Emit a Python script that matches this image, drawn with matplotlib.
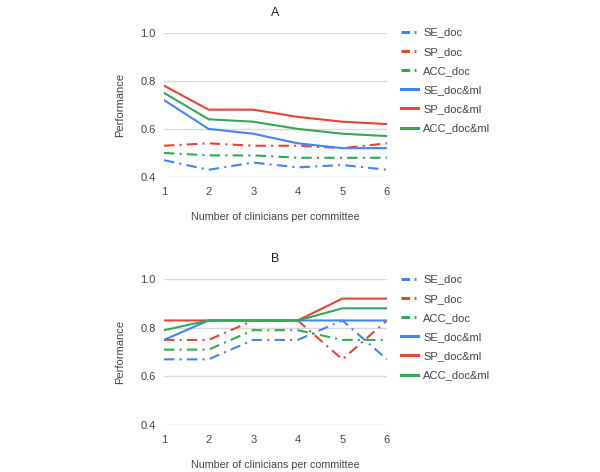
import matplotlib
matplotlib.use("Agg")
import matplotlib.pyplot as plt
from matplotlib.lines import Line2D

plt.rcParams['font.family'] = ['Liberation Sans', 'DejaVu Sans']

x = [1, 2, 3, 4, 5, 6]
labels = ["SE_doc", "SP_doc", "ACC_doc", "SE_doc&ml", "SP_doc&ml", "ACC_doc&ml"]

a_se_doc = [0.47, 0.43, 0.46, 0.44, 0.45, 0.43]
a_sp_doc = [0.53, 0.54, 0.53, 0.53, 0.52, 0.54]
a_acc_doc = [0.50, 0.49, 0.49, 0.48, 0.48, 0.48]
a_se_ml = [0.72, 0.60, 0.58, 0.54, 0.52, 0.52]
a_sp_ml = [0.78, 0.68, 0.68, 0.65, 0.63, 0.62]
a_acc_ml = [0.75, 0.64, 0.63, 0.60, 0.58, 0.57]

b_se_doc = [0.67, 0.67, 0.75, 0.75, 0.83, 0.67]
b_sp_doc = [0.75, 0.75, 0.83, 0.83, 0.67, 0.83]
b_acc_doc = [0.71, 0.71, 0.79, 0.79, 0.75, 0.75]
b_se_ml = [0.75, 0.83, 0.83, 0.83, 0.83, 0.83]
b_sp_ml = [0.83, 0.83, 0.83, 0.83, 0.92, 0.92]
b_acc_ml = [0.79, 0.83, 0.83, 0.83, 0.88, 0.88]

yticks = [0.4, 0.6, 0.8, 1.0]
ytick_labels = ["0.4", "0.6", "0.8", "1.0"]

BLUE, RED, GREEN = "#4285F4", "#EA4335", "#34A853"
colors = [BLUE, RED, GREEN, BLUE, RED, GREEN]
dashdot = (0, (5, 2.5, 1, 2.5))
styles = [dashdot, dashdot, dashdot, '-', '-', '-']
handle_dashdot = (0, (2.8, 1.5, 0.6, 1.5))
handle_styles = [handle_dashdot] * 3 + ['-'] * 3

fig = plt.figure(figsize=(6.0, 4.72), dpi=100)

def panel(rect, title, series, legend_top):
    ax = fig.add_axes(rect)
    for s, c, ls, lab in zip(series, colors, styles, labels):
        ax.plot(x, s, color=c, linestyle=ls, linewidth=1.5, label=lab)
    ax.set_xlim(1, 6)
    ax.set_ylim(0.4, 1.0)
    ax.set_yticks(yticks)
    ax.set_yticklabels(ytick_labels)
    ax.set_xticks(x)
    ax.grid(axis='y', color='#d9d9d9', linewidth=1)
    ax.set_axisbelow(True)
    for sp in ax.spines.values():
        sp.set_visible(False)
    ax.tick_params(length=0, labelsize=8, colors='#444444')
    ax.tick_params(axis='x', pad=7)
    ax.tick_params(axis='y', pad=6)
    ax.set_title(title, fontsize=9, color='#222222', pad=12)
    ax.set_xlabel("Number of clinicians per committee", fontsize=7.7, color='#444444', labelpad=11)
    ax.set_ylabel("Performance", fontsize=8, color='#444444', labelpad=11)
    handles = [Line2D([0], [0], color=c, linestyle=ls, linewidth=2.2) for c, ls in zip(colors, handle_styles)]
    fig.legend(handles, labels, loc='upper left', bbox_to_anchor=(0.661, legend_top),
               frameon=False, fontsize=8, labelspacing=0.83, handlelength=1.55,
               handletextpad=0.45, labelcolor='#444444', borderaxespad=0)
    return ax

panel([0.2733, 0.625, 0.3717, 0.3057], "A",
      [a_se_doc, a_sp_doc, a_acc_doc, a_se_ml, a_sp_ml, a_acc_ml], 1 - 23 / 472)
panel([0.2733, 0.0996, 0.3717, 0.309], "B",
      [b_se_doc, b_sp_doc, b_acc_doc, b_se_ml, b_sp_ml, b_acc_ml], 1 - 270 / 472)

fig.savefig("out.png", dpi=100)
